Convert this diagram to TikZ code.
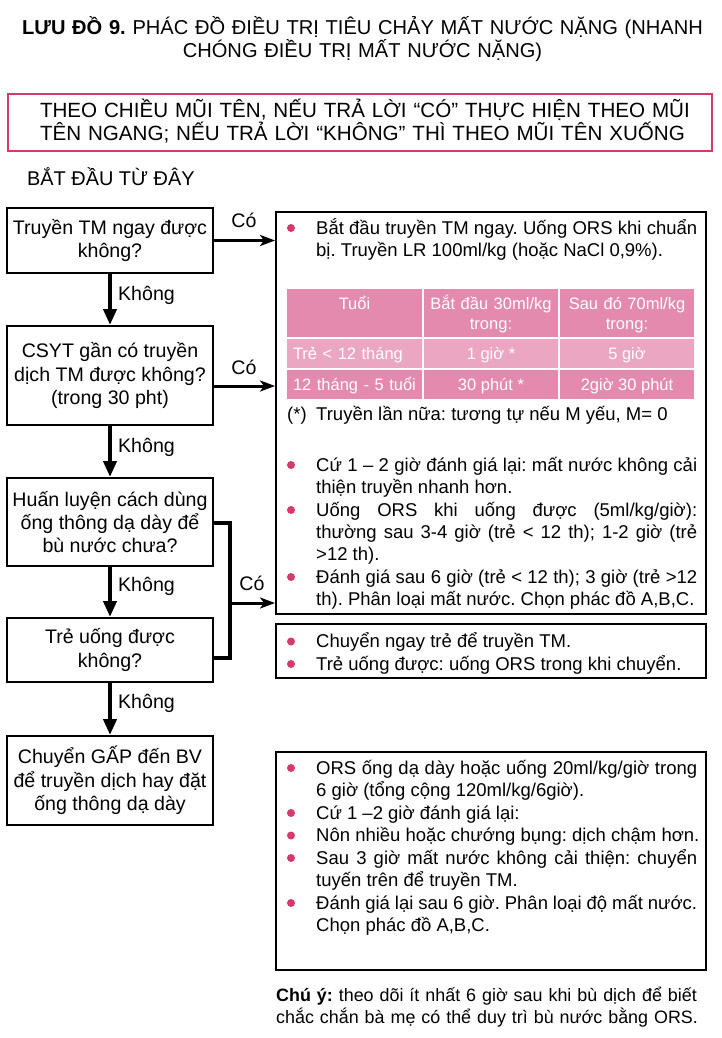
\documentclass[tikz,border=0pt]{standalone}
\usepackage{fontspec}
\setmainfont{Liberation Sans}
\usetikzlibrary{arrows.meta,calc}
\definecolor{crim}{HTML}{D63A6A}
\definecolor{pinkA}{HTML}{E48AAE}
\definecolor{pinkB}{HTML}{EBA6C1}
\newcommand{\myfs}[2]{\fontsize{#1pt}{#2pt}\selectfont}
\hyphenpenalty=10000
\exhyphenpenalty=10000
\frenchspacing
\tikzset{
 lbox/.style={draw, line width=2pt, minimum width=206pt, align=center, font=\myfs{19.6}{23.3}, inner sep=0pt},
 rbox/.style={draw, line width=2pt, minimum width=430pt, inner sep=0pt},
 dn/.style={line width=4pt, -{Triangle[length=16pt,width=13pt]}},
 yes/.style={line width=3pt, -{Stealth[length=15pt,width=11pt,inset=4pt]}},
 lbl/.style={font=\myfs{19.6}{23}, inner sep=0pt},
 dot/.style={circle, fill=crim, inner sep=0pt, minimum size=8pt},
 btxt/.style={anchor=base west, inner sep=0pt, text width=381pt, align=justify, font=\myfs{18.5}{22.3}},
 plain/.style={anchor=base west, inner sep=0pt, font=\myfs{18.5}{22.3}},
 hcell/.style={fill=pinkA, inner sep=0pt, minimum height=48pt},
 hdr/.style={anchor=base, inner sep=0pt, text width=130pt, align=center, font=\myfs{16.5}{20}, text=white},
 cell/.style={inner sep=0pt, minimum height=29pt, text height=16pt, text depth=4pt, text=white, font=\myfs{16.5}{20}},
}
\begin{document}
\begin{tikzpicture}[x=1pt,y=-1pt]
\useasboundingbox (0,0) rectangle (721,1038);

% title
\node[anchor=base, text width=700pt, align=center, inner sep=0pt, font=\myfs{20.1}{23}] (title) at (362.5,34.3)
  {\textbf{LƯU ĐỒ 9.} PHÁC ĐỒ ĐIỀU TRỊ TIÊU CHẢY MẤT NƯỚC NẶNG (NHANH\\CHÓNG ĐIỀU TRỊ MẤT NƯỚC NẶNG)};

% banner
\node[draw=crim, line width=2pt, minimum width=704pt, minimum height=57pt, inner sep=0pt] (ban) at (360,122.5) {};
\node[anchor=base, inner sep=0pt, text width=660pt, align=center, font=\myfs{20.6}{23}] (bantxt) at (360,117.4)
  {\makebox[640pt][s]{THEO CHIỀU MŨI TÊN, NẾU TRẢ LỜI “CÓ” THỰC HIỆN THEO MŨI}\\
   \makebox[640pt][s]{TÊN NGANG; NẾU TRẢ LỜI “KHÔNG” THÌ THEO MŨI TÊN XUỐNG}};

\node[anchor=base west, inner sep=0pt, font=\myfs{19.9}{23}] (start) at (27,185) {BẮT ĐẦU TỪ ĐÂY};

% left decision boxes
\node[lbox, minimum height=65pt] (b1) at (110,240.5) {Truyền TM ngay được\\không?};
\node[lbox, minimum height=99pt] (b2) at (110,375.5) {CSYT gần có truyền\\dịch TM được không?\\(trong 30 pht)};
\node[lbox, minimum height=88pt] (b3) at (110,522) {Huấn luyện cách dùng\\ống thông dạ dày để\\bù nước chưa?};
\node[lbox, minimum height=64pt] (b4) at (110,650) {Trẻ uống được\\không?};
\node[lbox, minimum height=89pt] (b5) at (110,780.5) {Chuyển GẤP đến BV\\để truyền dịch hay đặt\\ống thông dạ dày};

\draw[dn] (b1) -- (b2);
\draw[dn] (b2) -- (b3);
\draw[dn] (b3) -- (b4);
\draw[dn] (b4) -- (b5);
\node[lbl] (k1) at (146.5,295) {Không};
\node[lbl] (k2) at (146.5,447) {Không};
\node[lbl] (k3) at (146.5,586.5) {Không};
\node[lbl] (k4) at (146.5,703) {Không};

% right boxes
\node[rbox, minimum height=402pt] (rb1) at (491,413) {};
\node[rbox, minimum height=54pt] (rb2) at (491,651) {};
\node[rbox, minimum height=218pt] (rb3) at (491,861) {};

% yes arrows
\draw[yes] (b1.east) -- (b1.east -| rb1.west);
\coordinate (a2) at ($(b2.east)+(0,10.5)$);
\draw[yes] (a2) -- (a2 -| rb1.west);
\coordinate (j3) at ($(b3.east)+(0,1)$);
\coordinate (j4) at ($(b4.east)+(0,8)$);
\coordinate (jt) at (230,523);
\coordinate (jb) at (230,658);
\coordinate (jm) at (230,603);
\draw[line width=4pt] (j3) -- (jt) -- (jb) -- (j4);
\draw[yes] (jm) -- (jm -| rb1.west);
\node[lbl] (c1) at (244,220) {Có};
\node[lbl] (c2) at (244,367.5) {Có};
\node[lbl] (c3) at (252,583) {Có};

% big box content
\node[dot] (d1) at (291,228) {};
\node[btxt] (t1) at (316,234) {Bắt đầu truyền TM ngay. Uống ORS khi chuẩn\linebreak bị. Truyền LR 100ml/kg (hoặc NaCl 0,9\%).};

% table
\node[hcell, minimum width=135pt] (c11) at (354.5,313) {};
\node[hcell, minimum width=134pt] (c12) at (491,313) {};
\node[hcell, minimum width=134pt] (c13) at (627,313) {};
\node[hdr] (h1) at (354.5,309) {Tuổi};
\node[hdr] (h2) at (491,309) {Bắt đầu 30ml/kg\\trong:};
\node[hdr] (h3) at (627,309) {Sau đó 70ml/kg\\trong:};
\node[cell, fill=pinkB, minimum width=135pt, text width=123pt, align=left] (c21) at (354.5,353.5) {Trẻ < 12 tháng};
\node[cell, fill=pinkB, minimum width=134pt] (c22) at (491,353.5) {1 giờ *};
\node[cell, fill=pinkB, minimum width=134pt] (c23) at (627,353.5) {5 giờ};
\node[cell, fill=pinkA, minimum width=135pt, text width=123pt, align=left] (c31) at (354.5,384.5) {12 tháng - 5 tuổi};
\node[cell, fill=pinkA, minimum width=134pt] (c32) at (491,384.5) {30 phút *};
\node[cell, fill=pinkA, minimum width=134pt] (c33) at (627,384.5) {2giờ 30 phút};

\node[plain] (star) at (287,420) {(*)};
\node[plain] (startxt) at (316,420) {Truyền lần nữa: tương tự nếu M yếu, M= 0};

\node[dot] (d2) at (291,465) {};
\node[btxt] (t2) at (316,471) {Cứ 1 – 2 giờ đánh giá lại: mất nước không cải\linebreak thiện truyền nhanh hơn.};
\node[dot] (d3) at (291,510) {};
\node[btxt] (t3) at (316,516) {Uống ORS khi uống được (5ml/kg/giờ):\linebreak thường sau 3-4 giờ (trẻ < 12 th); 1-2 giờ (trẻ\linebreak >12 th).};
\node[dot] (d4) at (291,577) {};
\node[btxt] (t4) at (316,583) {Đánh giá sau 6 giờ (trẻ < 12 th); 3 giờ (trẻ >12\linebreak th). Phân loại mất nước. Chọn phác đồ A,B,C.};

% second box
\node[dot] (d5) at (291,641.5) {};
\node[plain] (t5) at (316,647.5) {Chuyển ngay trẻ để truyền TM.};
\node[dot] (d6) at (291,664) {};
\node[plain] (t6) at (316,670) {Trẻ uống được: uống ORS trong khi chuyển.};

% third box
\node[dot] (d7) at (291,768) {};
\node[btxt] (t7) at (316,774) {ORS ống dạ dày hoặc uống 20ml/kg/giờ trong\linebreak 6 giờ (tổng cộng 120ml/kg/6giờ).};
\node[dot] (d8) at (291,813) {};
\node[plain] (t8) at (316,819) {Cứ 1 –2 giờ đánh giá lại:};
\node[dot] (d9) at (291,835.5) {};
\node[plain] (t9) at (316,841.5) {Nôn nhiều hoặc chướng bụng: dịch chậm hơn.};
\node[dot] (d10) at (291,858) {};
\node[btxt] (t10) at (316,864) {Sau 3 giờ mất nước không cải thiện: chuyển\linebreak tuyến trên để truyền TM.};
\node[dot] (d11) at (291,903) {};
\node[btxt] (t11) at (316,909) {Đánh giá lại sau 6 giờ. Phân loại độ mất nước.\linebreak Chọn phác đồ A,B,C.};

% note
\node[anchor=base west, inner sep=0pt, text width=440pt, align=left, font=\myfs{17.9}{22.3}] (note) at (276,1001)
  {\textbf{Chú ý:} theo dõi ít nhất 6 giờ sau khi bù dịch để biết\\chắc chắn bà mẹ có thể duy trì bù nước bằng ORS.};
\end{tikzpicture}
\end{document}
